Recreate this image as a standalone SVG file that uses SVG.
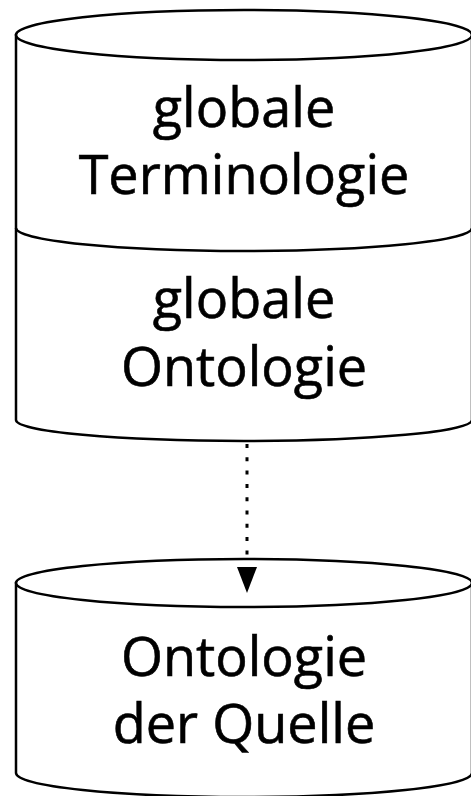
<svg xmlns="http://www.w3.org/2000/svg" width="471" height="796" viewBox="0 0 471 796">
  <defs>
    <style>
      .shape { fill: #ffffff; stroke: #000000; stroke-width: 2.5; }
      .edge { fill: none; stroke: #000000; stroke-width: 2.5; }
      .label { font-family: "Open Sans", "DejaVu Sans", sans-serif; font-size: 54px; fill: #000000; stroke: #000000; stroke-width: 0.6; text-anchor: middle; }
      .link { fill: none; stroke: #000000; stroke-width: 3; stroke-dasharray: 4 9.3; }
    </style>
  </defs>

  <rect width="471" height="796" fill="#ffffff"/>

  <!-- stacked store: terminology on top of ontology -->
  <g id="global-store">
    <path class="shape" d="M16,35 L16,420 A228,21 0 0 0 472,420 L472,35 Z"/>
    <ellipse class="shape" cx="244" cy="35" rx="228" ry="25"/>
    <path class="edge" d="M16,228 A228,23 0 0 0 472,228"/>
    <g id="global-terminology">
      <text class="label" x="244" y="127">globale</text>
      <text class="label" x="244" y="194">Terminologie</text>
    </g>
    <g id="global-ontology">
      <text class="label" x="244" y="318">globale</text>
      <text class="label" x="244" y="386">Ontologie</text>
    </g>
  </g>

  <!-- source ontology store -->
  <g id="source-ontology">
    <path class="shape" d="M16,583 L16,773 A228,24 0 0 0 472,773 L472,583 Z"/>
    <ellipse class="shape" cx="244" cy="583" rx="228" ry="24"/>
    <text class="label" x="244" y="676">Ontologie</text>
    <text class="label" x="244" y="743">der Quelle</text>
  </g>

  <!-- connectors -->
  <g id="connectors">
    <line class="link" x1="247" y1="444" x2="247" y2="558"/>
    <path d="M237,567 L257,567 L247,593 Z" fill="#000000"/>
  </g>
</svg>
